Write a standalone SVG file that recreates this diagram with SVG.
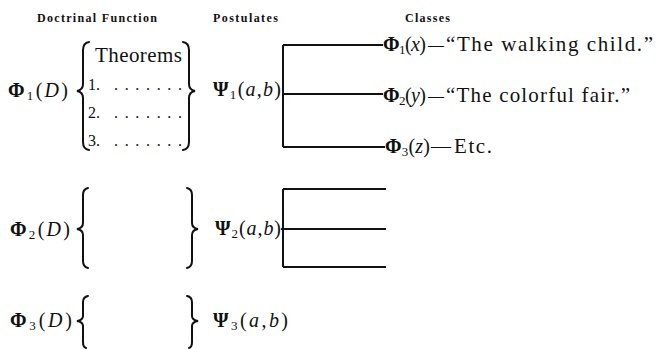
<svg xmlns="http://www.w3.org/2000/svg" width="657" height="349" viewBox="0 0 657 349">
<style>
.t{font-family:"Liberation Serif","Times New Roman",serif;fill:#111}
.h{font-family:"Liberation Serif","Times New Roman",serif;font-weight:bold;font-size:12px;fill:#111}
.m{font-size:20px}
.s{font-size:13px}
.d{font-size:16px}
.i{font-style:italic}
.b{font-weight:bold}
.br{fill:none;stroke:#111;stroke-width:2;stroke-linecap:round}
.ln{stroke:#111;stroke-width:2;fill:none}
</style>
<rect width="657" height="349" fill="#fff"/>
<g id="headers">
<text class="h" x="37" y="22" textLength="120">Doctrinal Function</text>
<text class="h" x="213" y="22" textLength="65">Postulates</text>
<text class="h" x="405" y="22" textLength="45">Classes</text>
</g>
<g id="doctrine1">
<text class="t m" x="8" y="97" textLength="60"><tspan class="b">Φ</tspan><tspan class="s" dy="3">1</tspan><tspan dy="-3">(</tspan><tspan class="i">D</tspan>)</text>
<path class="br" d="M89 42 Q83 43 83 50 L83 84 Q83 90 77 91 Q83 92 83 98 L83 142 Q83 149 89 150"/>
<text class="t" x="95" y="62" font-size="21" textLength="87">Theorems</text>
<text class="t" x="88" y="90" font-size="16">1.</text>
<text class="t" x="88" y="118" font-size="16">2.</text>
<text class="t" x="88" y="146" font-size="16">3.</text>
<text class="t" x="114" y="90" font-size="16" textLength="68">.......</text>
<text class="t" x="114" y="118" font-size="16" textLength="68">.......</text>
<text class="t" x="114" y="146" font-size="16" textLength="68">.......</text>
<path class="br" d="M183 42 Q189 43 189 50 L189 84 Q189 90 195 91 Q189 92 189 98 L189 142 Q189 149 183 150"/>
</g>
<g id="postulate1">
<text class="t m" x="213" y="96" textLength="68"><tspan class="b">Ψ</tspan><tspan class="s" dy="3">1</tspan><tspan dy="-3">(</tspan><tspan class="i">a</tspan>,<tspan class="i">b</tspan>)</text>
</g>
<g id="class1">
<text class="t m" x="383" y="51" textLength="43"><tspan class="b">Φ</tspan><tspan class="s" dy="3">1</tspan><tspan dy="-3">(</tspan><tspan class="i">x</tspan>)</text>
<text class="t d" x="428" y="50">—</text>
<text class="t" x="446" y="51" font-size="21" textLength="207">“The walking child.”</text>
</g>
<g id="class2">
<text class="t m" x="383" y="102" textLength="43"><tspan class="b">Φ</tspan><tspan class="s" dy="3">2</tspan><tspan dy="-3">(</tspan><tspan class="i">y</tspan>)</text>
<text class="t d" x="428" y="101">—</text>
<text class="t" x="446" y="102" font-size="21" textLength="184">“The colorful fair.”</text>
</g>
<g id="class3">
<text class="t m" x="385" y="153" textLength="45"><tspan class="b">Φ</tspan><tspan class="s" dy="3">3</tspan><tspan dy="-3">(</tspan><tspan class="i">z</tspan>)</text>
<text class="t m" x="431" y="153" textLength="21">—</text>
<text class="t" x="454" y="153" font-size="21" textLength="38">Etc.</text>
</g>
<g id="doctrine2">
<text class="t m" x="10" y="236" textLength="60"><tspan class="b">Φ</tspan><tspan class="s" dy="3">2</tspan><tspan dy="-3">(</tspan><tspan class="i">D</tspan>)</text>
<path class="br" d="M88 188 Q83 189 83 195 L83 223 Q83 228 77 229 Q83 230 83 235 L83 261 Q83 267 88 268"/>
<path class="br" d="M187 188 Q192 189 192 195 L192 223 Q192 228 198 229 Q192 230 192 235 L192 261 Q192 267 187 268"/>
</g>
<g id="postulate2">
<text class="t m" x="215" y="235" textLength="66"><tspan class="b">Ψ</tspan><tspan class="s" dy="3">2</tspan><tspan dy="-3">(</tspan><tspan class="i">a</tspan>,<tspan class="i">b</tspan>)</text>
</g>
<g id="doctrine3">
<text class="t m" x="10" y="327" textLength="62"><tspan class="b">Φ</tspan><tspan class="s" dy="3">3</tspan><tspan dy="-3">(</tspan><tspan class="i">D</tspan>)</text>
<path class="br" d="M88 296 Q83 297 83 302 L83 316 Q83 320 77 321 Q83 322 83 326 L83 342 Q83 347 86 348"/>
<path class="br" d="M187 296 Q192 297 192 302 L192 316 Q192 320 198 321 Q192 322 192 326 L192 342 Q192 347 189 348"/>
</g>
<g id="postulate3">
<text class="t m" x="213" y="327" textLength="75"><tspan class="b">Ψ</tspan><tspan class="s" dy="3">3</tspan><tspan dy="-3">(</tspan><tspan class="i">a</tspan>,<tspan class="i">b</tspan>)</text>
</g>
<g id="connectors">
<path class="ln" d="M283 45 V147 M283 45 H383 M282 94 H383 M283 147 H385"/>
<path class="ln" d="M283 189 V267 M283 189 H386 M281 229 H386 M283 267 H386"/>
</g>
</svg>
